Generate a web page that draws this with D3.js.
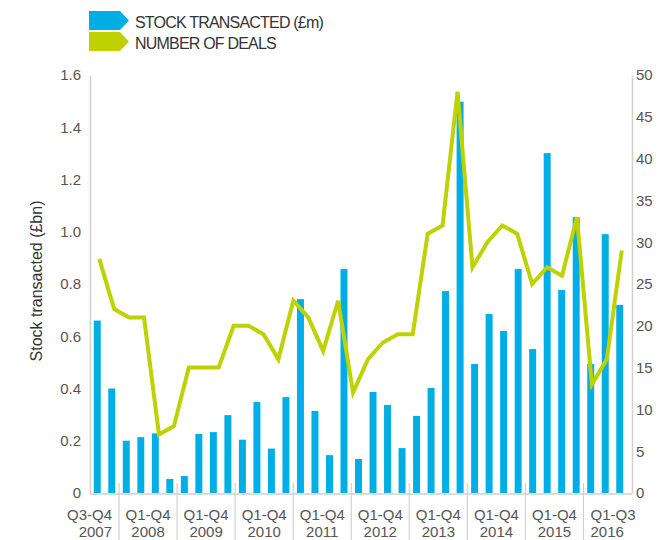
<!DOCTYPE html>
<html>
<head>
<meta charset="utf-8">
<script src="https://cdn.jsdelivr.net/npm/d3@7"></script>
<style>
  body { margin: 0; background: #fff; }
  svg text { font-family: "Liberation Sans", Arial, sans-serif; }
</style>
</head>
<body>
<svg id="chart" width="658" height="540"></svg>
<script>
// quarters shown as bars
const quarters = [
  "2007Q3","2007Q4",
  "2008Q1","2008Q2","2008Q3","2008Q4",
  "2009Q1","2009Q2","2009Q3","2009Q4",
  "2010Q1","2010Q2","2010Q3","2010Q4",
  "2011Q1","2011Q2","2011Q3","2011Q4",
  "2012Q1","2012Q2","2012Q3","2012Q4",
  "2013Q1","2013Q2","2013Q3","2013Q4",
  "2014Q1","2014Q2","2014Q3","2014Q4",
  "2015Q1","2015Q2","2015Q3","2015Q4",
  "2016Q1","2016Q2","2016Q3"
];
const stockBn = [0.66, 0.40, 0.20, 0.214, 0.228, 0.054, 0.065, 0.226, 0.233, 0.298,
  0.204, 0.348, 0.17, 0.367, 0.742, 0.314, 0.145, 0.857, 0.13, 0.387,
  0.337, 0.172, 0.295, 0.402, 0.773, 1.498, 0.494, 0.685, 0.62, 0.857,
  0.551, 1.301, 0.777, 1.056, 0.494, 0.991, 0.72];
// the deals line has one point fewer than the bars
const deals = [28, 22, 21, 21, 7, 8, 15, 15, 15, 20, 20, 19, 16, 23, 21, 17, 23, 12,
  16, 18, 19, 19, 31, 32, 48, 27, 30, 32, 31, 25, 27, 26, 33, 13, 16, 29];

const groupLabels = ["Q3-Q4","Q1-Q4","Q1-Q4","Q1-Q4","Q1-Q4","Q1-Q4","Q1-Q4","Q1-Q4","Q1-Q4","Q1-Q3"];
const groupYears = ["2007","2008","2009","2010","2011","2012","2013","2014","2015","2016"];

const leftTicks = [0, 0.2, 0.4, 0.6, 0.8, 1.0, 1.2, 1.4, 1.6];
const rightTicks = [0, 5, 10, 15, 20, 25, 30, 35, 40, 45, 50];

const blue = "#00aee6";
const green = "#bdd200";
const axisGrey = "#d0d0d0";
const textGrey = "#555";

const svg = d3.select("#chart");

const x = d3.scaleBand().domain(quarters).range([90, 627]).paddingInner(0.52).paddingOuter(0.26);
const y = d3.scaleLinear().domain([0, 1.6]).range([493, 75]);
const y2 = d3.scaleLinear().domain([0, 50]).range([493, 75]);
const xLine = d3.scalePoint().domain(d3.range(deals.length))
  .range([x(quarters[0]) + x.bandwidth() / 2 + 2, x(quarters[quarters.length - 1]) + x.bandwidth() / 2 + 2]);

// axes
const leftAxis = svg.append("g").attr("transform", "translate(90,0)")
  .call(d3.axisLeft(y).tickValues(leftTicks).tickSize(0).tickPadding(9)
    .tickFormat(d => d === 0 ? "0" : d3.format(".1f")(d)));
const rightAxis = svg.append("g").attr("transform", "translate(632,0)")
  .call(d3.axisRight(y2).tickValues(rightTicks).tickSize(0).tickPadding(4));
[leftAxis, rightAxis].forEach(g => {
  g.select(".domain").attr("stroke", axisGrey).attr("stroke-width", 1.5);
  g.selectAll("text").attr("fill", textGrey).style("font-size", "15px");
});

// baseline
svg.append("line")
  .attr("x1", 90).attr("x2", 632).attr("y1", y(0) + 1).attr("y2", y(0) + 1)
  .attr("stroke", axisGrey).attr("stroke-width", 1.5);

// year groups
let start = 0;
const groups = groupYears.map((yr, i) => {
  const n = quarters.filter(q => q.startsWith(yr)).length;
  const g = { yr: yr, label: groupLabels[i], from: start, to: start + n - 1 };
  start += n;
  return g;
});
const step = x.step();
const edgeL = g => x(quarters[g.from]) - (step - x.bandwidth()) / 2;
const edgeR = g => x(quarters[g.to]) + x.bandwidth() + (step - x.bandwidth()) / 2;

svg.selectAll(".sep").data(groups.slice(1)).join("line")
  .attr("class", "sep")
  .attr("x1", edgeL).attr("x2", edgeL)
  .attr("y1", 483).attr("y2", 540)
  .attr("stroke", axisGrey).attr("stroke-width", 1.2);

const lab = svg.selectAll(".glab").data(groups).join("text")
  .attr("class", "glab")
  .attr("fill", textGrey)
  .style("font-size", "15px")
  .attr("text-anchor", (d, i) => i === 0 ? "end" : (i === groups.length - 1 ? "start" : "middle"))
  .attr("transform", (d, i) => {
    let px = (edgeL(d) + edgeR(d)) / 2;
    if (i === 0) px = edgeR(d) - 7;
    if (i === groups.length - 1) px = edgeL(d) + 7;
    return `translate(${px},0)`;
  });
lab.append("tspan").attr("x", 0).attr("y", 520).text(d => d.label);
lab.append("tspan").attr("x", 0).attr("y", 537).text(d => d.yr);

// bars
svg.selectAll(".bar").data(stockBn).join("rect")
  .attr("class", "bar")
  .attr("x", (d, i) => x(quarters[i]))
  .attr("width", x.bandwidth())
  .attr("y", d => y(d))
  .attr("height", d => y(0) - y(d))
  .attr("fill", blue);

// deals line
const line = d3.line().x((d, i) => xLine(i)).y(d => y2(d));
svg.append("path").datum(deals)
  .attr("d", line)
  .attr("fill", "none")
  .attr("stroke", green)
  .attr("stroke-width", 4)
  .attr("stroke-linejoin", "miter");

// y title
svg.append("text")
  .attr("transform", "translate(42,281) rotate(-90)")
  .attr("text-anchor", "middle")
  .attr("fill", "#333")
  .style("font-size", "16px")
  .text("Stock transacted (£bn)");

// legend
const legend = [
  { name: "STOCK TRANSACTED (£m)", color: blue },
  { name: "NUMBER OF DEALS", color: green }
];
const lg = svg.selectAll(".leg").data(legend).join("g")
  .attr("class", "leg")
  .attr("transform", (d, i) => `translate(89,${11 + i * 21})`);
lg.append("path")
  .attr("d", "M0,0H31L40,9.5L31,19H0Z")
  .attr("fill", d => d.color);
lg.append("text")
  .attr("x", 46).attr("y", 17.3)
  .attr("fill", "#333")
  .style("font-size", "16px")
  .style("letter-spacing", "-0.8px")
  .text(d => d.name);
</script>
</body>
</html>
